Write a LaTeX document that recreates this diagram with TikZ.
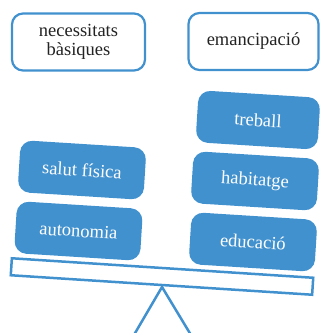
\documentclass[tikz,border=0pt]{standalone}
\usepackage{fontspec}
\setmainfont{Liberation Serif}
\newfontfamily\tnr{Liberation Serif}
\definecolor{sblue}{RGB}{65,145,207}
\definecolor{dtext}{RGB}{35,35,35}
\tikzset{
  topbox/.style={draw=sblue, line width=2.2pt, fill=white, rounded corners=11pt, minimum width=133pt, minimum height=57pt, inner sep=0pt, align=center, text=dtext, font=\tnr\fontsize{18.5}{19}\selectfont},
  bluebox/.style={fill=sblue, rounded corners=12pt, minimum width=126pt, minimum height=52pt, inner sep=0pt, text=white, rotate=-3.6, font=\tnr\fontsize{18.5}{19}\selectfont},
  plank/.style={draw=sblue, line width=2.5pt, fill=white, minimum width=302pt, minimum height=17pt, inner sep=0pt, rotate=-3.7},
  leg/.style={draw=sblue, line width=2.5pt}
}
\begin{document}
\begin{tikzpicture}[x=1pt,y=-1pt]
\path[use as bounding box, clip] (0,0) rectangle (320,333);
\node[topbox] (nb) at (78.5,42) {necessitats\\bàsiques};
\node[topbox, minimum width=130pt] (em) at (253.5,41.5) {emancipació};
\draw[leg] (131,340) -- (162,287) -- (194,340);
\node[plank] (pl) at (162,276.5) {};
\node[bluebox] (sf) at (82,170) {salut física};
\node[bluebox] (au) at (78.5,231) {autonomia};
\node[bluebox, minimum width=122pt] (tr) at (258,120) {treball};
\node[bluebox] (hb) at (255,181) {habitatge};
\node[bluebox] (ed) at (253,242) {educació};
\end{tikzpicture}
\end{document}
